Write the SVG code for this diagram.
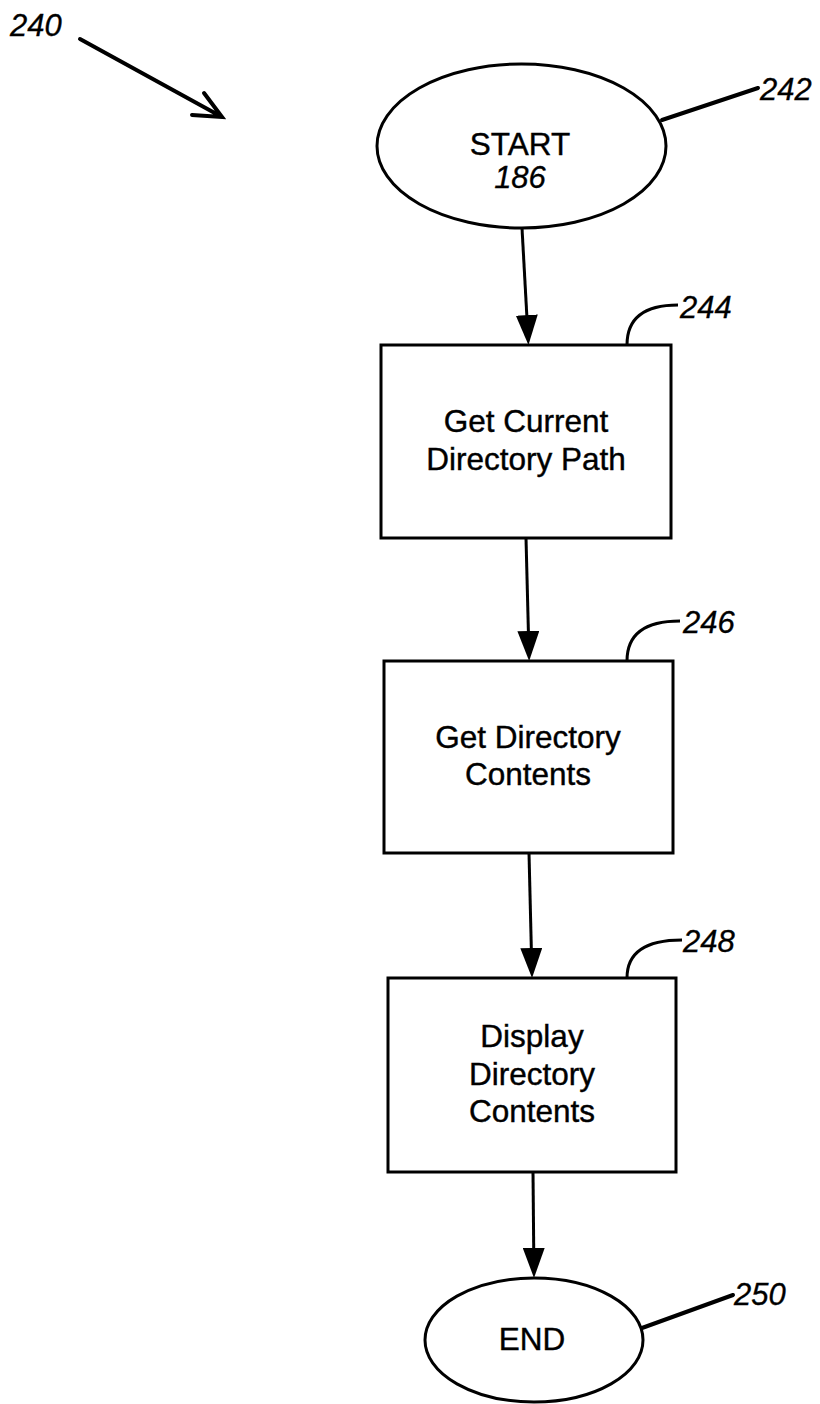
<svg xmlns="http://www.w3.org/2000/svg" width="820" height="1404" viewBox="0 0 820 1404">
<style>
.shape{fill:#fff;stroke:#000;stroke-width:3}
.conn{fill:none;stroke:#000;stroke-width:3}
.lead{fill:none;stroke:#000;stroke-width:4;stroke-linecap:round}
.hook{fill:none;stroke:#000;stroke-width:3}
.txt{font-family:"Liberation Sans",Arial,sans-serif;font-size:31.5px;fill:#000;stroke:#000;stroke-width:0.4;text-anchor:middle}
.ref{font-family:"Liberation Sans",Arial,sans-serif;font-size:31px;font-style:italic;fill:#000;stroke:#000;stroke-width:0.3}
</style>
<defs>
<marker id="ah" viewBox="0 0 30 22" refX="20" refY="11" markerWidth="30" markerHeight="22" markerUnits="userSpaceOnUse" orient="auto">
<path d="M0,0 L30,11 L0,22 Z" fill="#000"/>
</marker>
</defs>
<rect width="820" height="1404" fill="#fff"/>
<g id="ref240">
<text class="ref" x="10" y="36">240</text>
<path class="lead" d="M80,39 L222,117 M192,115 L222,117 L204,93"/>
</g>
<g id="start">
<ellipse class="shape" cx="521.5" cy="146" rx="144.5" ry="82"/>
<text class="txt" x="520" y="155">START</text>
<text class="ref" x="520" y="188" text-anchor="middle">186</text>
<path class="lead" d="M662,120 L758,88"/>
<text class="ref" x="760" y="100">242</text>
</g>
<g id="box244">
<rect class="shape" x="381" y="345" width="290" height="193"/>
<text class="txt" x="526" y="432">Get Current</text>
<text class="txt" x="526" y="470">Directory Path</text>
<path class="hook" d="M627,345 Q627,305 678,305"/>
<text class="ref" x="680" y="318">244</text>
</g>
<g id="box246">
<rect class="shape" x="384" y="661" width="289" height="192"/>
<text class="txt" x="528" y="748">Get Directory</text>
<text class="txt" x="528" y="785">Contents</text>
<path class="hook" d="M627,661 Q627,621 680,621"/>
<text class="ref" x="683" y="633">246</text>
</g>
<g id="box248">
<rect class="shape" x="388" y="978" width="288" height="194"/>
<text class="txt" x="532" y="1047">Display</text>
<text class="txt" x="532" y="1085">Directory</text>
<text class="txt" x="532" y="1122">Contents</text>
<path class="hook" d="M627,978 Q627,940 682,940"/>
<text class="ref" x="683" y="952">248</text>
</g>
<g id="end">
<ellipse class="shape" cx="534" cy="1340" rx="109" ry="62"/>
<text class="txt" x="532" y="1350">END</text>
<path class="lead" d="M642,1328 L733,1295"/>
<text class="ref" x="734" y="1305">250</text>
</g>
<g id="connectors">
<path class="conn" d="M522,228 L527.9,335" marker-end="url(#ah)"/>
<path class="conn" d="M526,538 L528.9,651" marker-end="url(#ah)"/>
<path class="conn" d="M529,853 L531.8,968" marker-end="url(#ah)"/>
<path class="conn" d="M533,1172 L533.9,1268" marker-end="url(#ah)"/>
</g>
</svg>
